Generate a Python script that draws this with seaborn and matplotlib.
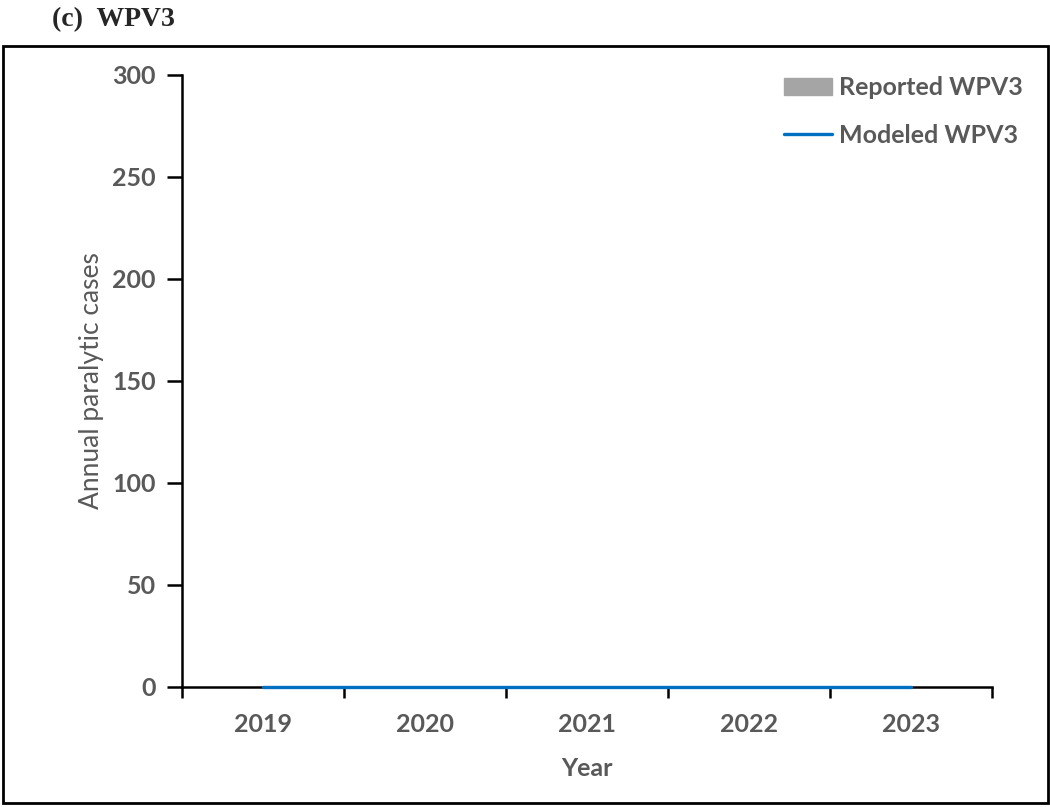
import numpy as np
import pandas as pd
import matplotlib
matplotlib.use('Agg')
import matplotlib.pyplot as plt
from matplotlib.patches import Rectangle, Patch
from matplotlib.lines import Line2D
import seaborn as sns

# Data
years = ['2019', '2020', '2021', '2022', '2023']
reported = [0, 0, 0, 0, 0]
modeled = [0, 0, 0, 0, 0]

df = pd.DataFrame({'Year': years, 'Reported': reported, 'Modeled': modeled})

sns.set_style('white')
plt.rcParams['font.family'] = ['Lato', 'DejaVu Sans']

gray_txt = '#595959'
bar_col = '#A5A5A5'
line_col = '#0070C0'
fs = 18

fig = plt.figure(figsize=(10.5, 8.07), dpi=100)
ax = fig.add_axes([0.1733, 0.1487, 0.7714, 0.7584])

sns.barplot(data=df, x='Year', y='Reported', color=bar_col, width=0.6, ax=ax)
sns.lineplot(data=df, x='Year', y='Modeled', color=line_col, linewidth=2.4, ax=ax,
             zorder=5, clip_on=False)

ax.set_xlim(-0.5, 4.5)
ax.set_ylim(0, 300)
ax.set_yticks(np.arange(0, 301, 50))

# boundary ticks on x, labels centered on categories
ax.set_xticks(np.arange(-0.5, 4.6, 1))
ax.set_xticklabels([])
ax.set_xticks(np.arange(5), minor=True)
ax.set_xticklabels(years, minor=True)
ax.tick_params(axis='x', which='major', bottom=True, length=8, width=1.8, color='black',
               direction='out')
ax.tick_params(axis='x', which='minor', bottom=True, length=0, pad=19, labelsize=fs,
               labelcolor=gray_txt)
ax.tick_params(axis='y', left=True, length=11, width=1.8, color='black', direction='out',
               pad=8, labelsize=fs, labelcolor=gray_txt)
for lab in ax.get_xticklabels(minor=True) + ax.get_yticklabels():
    lab.set_fontweight('bold')

sns.despine(ax=ax)
for s in ['left', 'bottom']:
    ax.spines[s].set_color('black')
    ax.spines[s].set_linewidth(1.8)
    ax.spines[s].set_zorder(1)

ax.set_xlabel('Year', fontsize=fs, fontweight='bold', color=gray_txt, labelpad=15)
ax.set_ylabel('Annual paralytic cases', fontsize=fs + 1, color=gray_txt, labelpad=6)

handles = [Patch(facecolor=bar_col, edgecolor=bar_col),
           Line2D([0], [0], color=line_col, linewidth=2.4)]
leg = ax.legend(handles, ['Reported WPV3', 'Modeled WPV3'], loc='upper right',
                frameon=False, fontsize=fs, handlelength=1.9, handleheight=0.7,
                handletextpad=0.3, labelspacing=1.0, bbox_to_anchor=(1.066, 1.035))
for t in leg.get_texts():
    t.set_color(gray_txt)
    t.set_fontweight('bold')

# outer frame
fig.patches.append(Rectangle((3 / 1050, 1 - 803 / 807), 1045 / 1050, 757 / 807,
                             transform=fig.transFigure, fill=False,
                             edgecolor='black', linewidth=2))

fig.text(52 / 1050, 1 - 20 / 807, '(c)  WPV3', fontsize=20, fontweight='bold',
         family='Liberation Serif', va='center', ha='left')

fig.savefig('out.png', dpi=100)
